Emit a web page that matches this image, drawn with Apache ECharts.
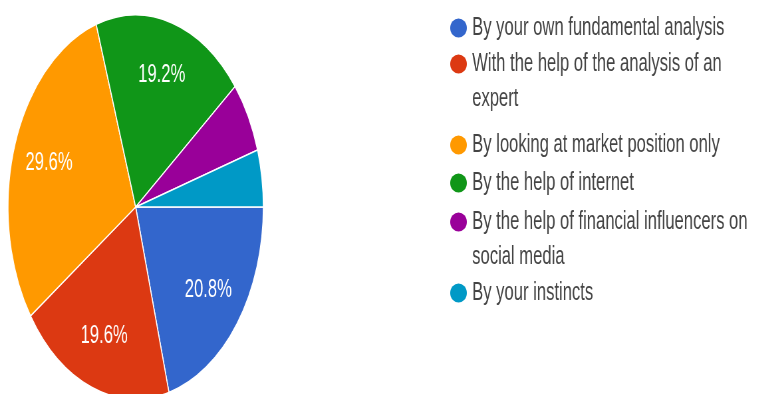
<!DOCTYPE html>
<html>
<head>
	<meta charset="utf-8" />
	<title>Pie</title>
	<script src="https://cdn.jsdelivr.net/npm/echarts@6/dist/echarts.min.js"></script>
	<style>
		html, body { margin: 0; padding: 0; background: #fff; overflow: hidden; }
		/* the source picture is squeezed sideways, so the whole chart is drawn wide and scaled */
		#main { width: 1138px; height: 394px; transform: scaleX(0.665); transform-origin: 0 0; }
	</style>
</head>
<body>
	<div id="main"></div>
	<script>
		var categories = [
			'By your own fundamental analysis',
			'With the help of the analysis of an expert',
			'By looking at market position only',
			'By the help of internet',
			'By the help of financial influencers on social media',
			'By your instincts'
		];
		var counts = [52, 49, 74, 48, 15, 12];
		var legendLabels = [
			'By your own fundamental analysis',
			'With the help of the analysis of an\nexpert',
			'By looking at market position only',
			'By the help of internet',
			'By the help of financial influencers on\nsocial media',
			'By your instincts'
		];
		var colors = ['#3366cc', '#dc3912', '#ff9900', '#109618', '#990099', '#0099c6'];

		// y of the first text line of every legend entry
		var legendRowY = [28, 64, 145, 183, 222, 293];
		var lineH = 35;
		var font = '"Liberation Sans", Arial, sans-serif';

		var pieData = categories.map(function(name, i) {
			return { name: name, value: counts[i], itemStyle: { color: colors[i] } };
		});

		var legends = categories.map(function(name, i) {
			var wrapped = legendLabels[i].indexOf('\n') >= 0;
			return {
				left: 677,
				top: legendRowY[i] - (wrapped ? lineH * 1.5 : lineH / 2),
				padding: 0,
				orient: 'vertical',
				itemWidth: 25,
				itemHeight: 19,
				icon: 'path://M0,10a11,10 0 1,0 22,0a11,10 0 1,0 -22,0',
				symbolKeepAspect: false,
				itemStyle: { borderWidth: 0 },
				data: [name],
				formatter: function(n) {
					var t = legendLabels[categories.indexOf(n)];
					// empty line on top keeps the marker level with the first line
					return t.indexOf('\n') >= 0 ? '\n' + t : t;
				},
				textStyle: {
					fontFamily: font,
					fontSize: 25,
					lineHeight: lineH,
					color: '#444',
					padding: [0, 0, 0, 3]
				}
			};
		});

		var option = {
			animation: false,
			legend: legends,
			series: [{
					type: 'pie',
					center: [204, 207],
					radius: [0, 192],
					startAngle: 0,
					clockwise: true,
					avoidLabelOverlap: false,
					itemStyle: { borderColor: '#fff', borderWidth: 1.5 },
					label: { show: false },
					labelLine: { show: false },
					emphasis: { scale: false },
					data: pieData
				},
				{ // labels only, sits at 0.7 of the radius
					type: 'pie',
					center: [204, 207],
					radius: [77, 192],
					startAngle: 0,
					clockwise: true,
					silent: true,
					avoidLabelOverlap: false,
					itemStyle: { color: 'rgba(0,0,0,0)', borderWidth: 0 },
					label: {
						show: true,
						position: 'inside',
						color: '#fff',
						fontFamily: font,
						fontSize: 25,
						formatter: function(p) {
							return p.percent >= 10 ? p.percent.toFixed(1) + '%' : '';
						}
					},
					labelLine: { show: false },
					data: categories.map(function(name, i) {
						return { name: name, value: counts[i] };
					})
				}
			]
		};

		var chart = echarts.init(document.getElementById('main'));
		chart.setOption(option);
	</script>
</body>
</html>
